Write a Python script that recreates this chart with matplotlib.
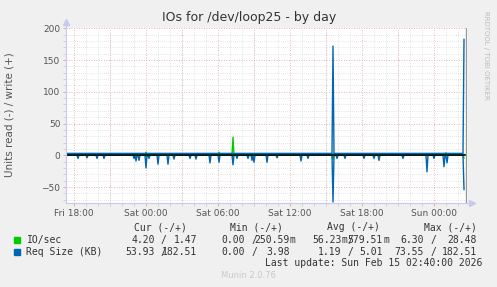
import numpy as np
import matplotlib
matplotlib.use("Agg")
import matplotlib.pyplot as plt
from matplotlib.ticker import MultipleLocator, FixedLocator

# hours relative to Sat 00:00, one sample every 5 minutes
t_start = -80 / 12   # Fri 17:20
t_last = 26.5        # Sun 02:30
xlim = (-80 / 12, 26.75)

tick_hours = [-6, 0, 6, 12, 18, 24]
tick_labels = ["Fri 18:00", "Sat 00:00", "Sat 06:00", "Sat 12:00", "Sat 18:00", "Sun 00:00"]

# Req Size (KB): read drawn negative, write positive
size_write_base = 3.0
size_read_spikes = [(-5.67, -5), (-4.92, -4), (-4.08, -5), (-3.5, -5), (-1.0, -5), (-0.83, -9),
                    (-0.58, -8), (0.0, -20), (0.25, -5), (1.0, -14), (1.83, -14), (2.33, -6),
                    (3.67, -5), (4.17, -6), (5.33, -12), (6.08, -11), (7.25, -15), (7.58, -5),
                    (8.5, -5), (8.83, -8), (9.0, -11), (10.08, -11), (10.92, -4), (12.92, -9),
                    (13.5, -5), (15.58, -73.55), (15.92, -5), (16.58, -5), (18.17, -5), (19.0, -5),
                    (19.42, -8), (21.42, -5), (23.42, -26), (24.0, -5), (24.83, -18), (25.08, -12),
                    (26.5, -53.93)]
size_write_spikes = [(15.58, 172), (26.5, 182.51)]

# IO/sec
io_read_spikes = [(0.0, -2), (7.25, -3), (15.58, -6.3), (26.5, -4.2)]
io_write_spikes = [(0.0, 5), (6.08, 5), (7.25, 28.48), (15.58, 3), (24.83, 3), (25.0, 4), (26.5, 1.47)]

legend_rows = [
    ("IO/sec", "#00CC00", [("4.20", "1.47"), ("0.00", "250.59m"), ("56.23m", "579.51m"), ("6.30", "28.48")]),
    ("Req Size (KB)", "#0066B3", [("53.93", "182.51"), ("0.00", "3.98"), ("1.19", "5.01"), ("73.55", "182.51")]),
]
col_heads = ["Cur (-/+)", "Min (-/+)", "Avg (-/+)", "Max (-/+)"]

n = int(round((t_last - t_start) * 12)) + 1
t = t_start + np.arange(n) / 12


def series(base, spikes):
    v = np.full(n, base, dtype=float)
    for h, val in spikes:
        v[int(round((h - t_start) * 12))] = val
    return v


W, H = 497, 287
fig = plt.figure(figsize=(W / 100, H / 100), dpi=100, facecolor="#F0F0F0")
ax = fig.add_axes([66 / W, (H - 203.3) / H, (467 - 66) / W, (203.3 - 28.3) / H])
ax.set_facecolor("white")

ax.set_xlim(*xlim)
ax.set_ylim(-75.6, 200)
ax.set_xticks(tick_hours, tick_labels)
ax.xaxis.set_minor_locator(MultipleLocator(1))
ax.yaxis.set_major_locator(MultipleLocator(50))
ax.yaxis.set_minor_locator(MultipleLocator(10))
ax.grid(which="minor", color="#CFCFCF", linestyle=(0, (1, 2)), linewidth=0.5)
ax.grid(which="major", color="#E0A0A0", linestyle=(0, (1, 2)), linewidth=0.6)
ax.set_axisbelow(True)
# extra 3-hourly major grid lines
for h in [-3, 3, 9, 15, 21]:
    ax.axvline(h, color="#E0A0A0", linestyle=(0, (1, 2)), linewidth=0.6, zorder=0.5)

ax.tick_params(axis="both", which="both", labelsize=6.5, labelcolor="#555555", length=2,
               color="#E0A0A0", width=0.6, pad=2)
ax.tick_params(axis="both", which="minor", color="#CCCCCC")
for s in ["top", "right"]:
    ax.spines[s].set_visible(False)
for s in ["left", "bottom"]:
    ax.spines[s].set_color("#C8C8F0")
    ax.spines[s].set_linewidth(0.8)

ax.plot(t, series(0, io_read_spikes), color="#00CC00", lw=1)
ax.plot(t, series(0, io_write_spikes), color="#00CC00", lw=1)
ax.plot(t, series(0, size_read_spikes), color="#0066B3", lw=1)
ax.plot(t, series(size_write_base, size_write_spikes), color="#0066B3", lw=1)
ax.axhline(0, color="black", lw=1.1)
ax.axvline(xlim[1] - 0.05, color="#999999", lw=1)

# axis arrows
ax.plot([0, 0], [1, 1.03], transform=ax.transAxes, color="#C8C8F0", lw=0.8, clip_on=False)
ax.plot([0], [1.035], marker="^", ms=4, color="#C8C8F0", transform=ax.transAxes, clip_on=False)
ax.plot([1, 1.01], [0, 0], transform=ax.transAxes, color="#C8C8F0", lw=0.8, clip_on=False)
ax.plot([1.012], [0], marker=">", ms=4, color="#C8C8F0", transform=ax.transAxes, clip_on=False)

fig.text(249 / W, 1 - 18 / H, "IOs for /dev/loop25 - by day", ha="center", va="center",
         fontsize=9, color="#333333")
fig.text(10 / W, 1 - 115 / H, "Units read (-) / write (+)", rotation=90, ha="center", va="center",
         fontsize=7.5, color="#555555")
fig.text(486 / W, 1 - 55 / H, "RRDTOOL / TOBI OETIKER", rotation=270, ha="center", va="center",
         fontsize=5, color="#BBBBBB")

# legend block
mono = dict(family="DejaVu Sans Mono", fontsize=7, color="#333333", va="center")
head_x = [134, 230, 327, 424]
read_end = [154.5, 245.3, 341.6, 424]
write_end = [197.3, 290, 383, 476.7]
for x, h in zip(head_x, col_heads):
    fig.text(x / W, 1 - 227 / H, h, ha="left", **mono)
for r, (name, col, cells) in enumerate(legend_rows):
    y = 1 - (240 + 12 * r) / H
    fig.patches.append(plt.Rectangle((14 / W, y - 3 / H), 6 / W, 6 / H, color=col,
                                     transform=fig.transFigure, figure=fig))
    fig.text(26.5 / W, y, name, ha="left", **mono)
    for c, (rd, wr) in enumerate(cells):
        rn, rs = (rd[:-1], rd[-1]) if rd.endswith("m") else (rd, "")
        wn, ws = (wr[:-1], wr[-1]) if wr.endswith("m") else (wr, "")
        fig.text(read_end[c] / W, y, rn, ha="right", **mono)
        if rs:
            fig.text(read_end[c] / W, y, rs, ha="left", **mono)
        fig.text((read_end[c] + 9) / W, y, "/", ha="center", **mono)
        fig.text(write_end[c] / W, y, wn, ha="right", **mono)
        if ws:
            fig.text(write_end[c] / W, y, ws, ha="left", **mono)
fig.text(482 / W, 1 - 263 / H, "Last update: Sun Feb 15 02:40:00 2026", ha="right", **mono)
fig.text(248 / W, 1 - 276 / H, "Munin 2.0.76", ha="center", va="center", fontsize=6, color="#C8C8C8")

fig.savefig("out.png", dpi=100, facecolor=fig.get_facecolor())
